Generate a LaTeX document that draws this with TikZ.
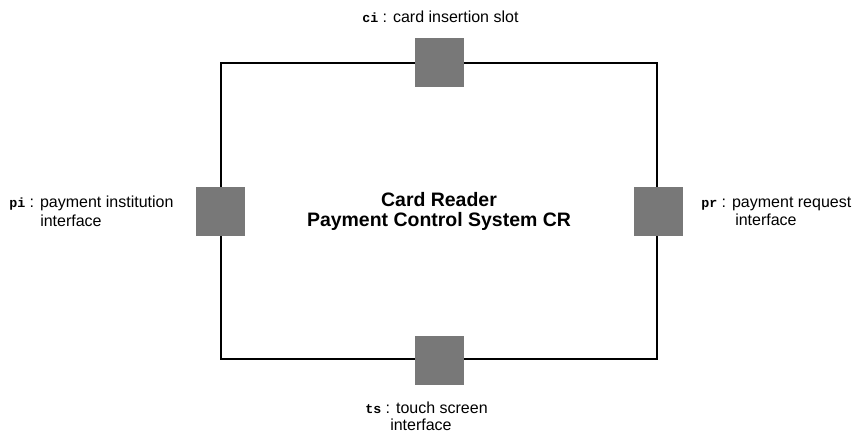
\documentclass[tikz,border=0pt]{standalone}
\usepackage{fontspec}
\setmainfont{Liberation Sans}
\newfontfamily\portmono{Liberation Mono}
\definecolor{portgray}{RGB}{120,120,120}
\newcommand{\pname}[1]{{\portmono\fontsize{10}{12}\selectfont\bfseries #1}}
\begin{document}
\begin{tikzpicture}[x=0.75pt,y=-0.75pt,
  box/.style={draw=black, line width=1.5pt, minimum width=327pt, minimum height=222pt, inner sep=0pt, align=center, font=\fontsize{14.6}{15}\selectfont\bfseries},
  port/.style={fill=portgray, draw=none, minimum size=36.75pt, inner sep=0pt},
  lbl/.style={anchor=base west, inner sep=0pt, font=\fontsize{12}{14}\selectfont},
]
\useasboundingbox (0,0) rectangle (853,432);
\node[box] (cr) at (439,211) {Card Reader\\Payment Control System CR};
\node[port] (ci) at (cr.north) {};
\node[port] (ts) at (cr.south) {};
\node[port] (pi) at (cr.west) {};
\node[port] (pr) at (cr.east) {};
\node[lbl] (cilbl) at (362,22) {\pname{ci} : card insertion slot};
\node[lbl] (pilbl1) at (9,207) {\pname{pi} : payment institution};
\node[lbl] (pilbl2) at (40,226) {interface};
\node[lbl] (prlbl1) at (701,207) {\pname{pr} : payment request};
\node[lbl] (prlbl2) at (735,225) {interface};
\node[lbl] (tslbl1) at (365,413) {\pname{ts} : touch screen};
\node[lbl] (tslbl2) at (390,430) {interface};
\end{tikzpicture}
\end{document}
